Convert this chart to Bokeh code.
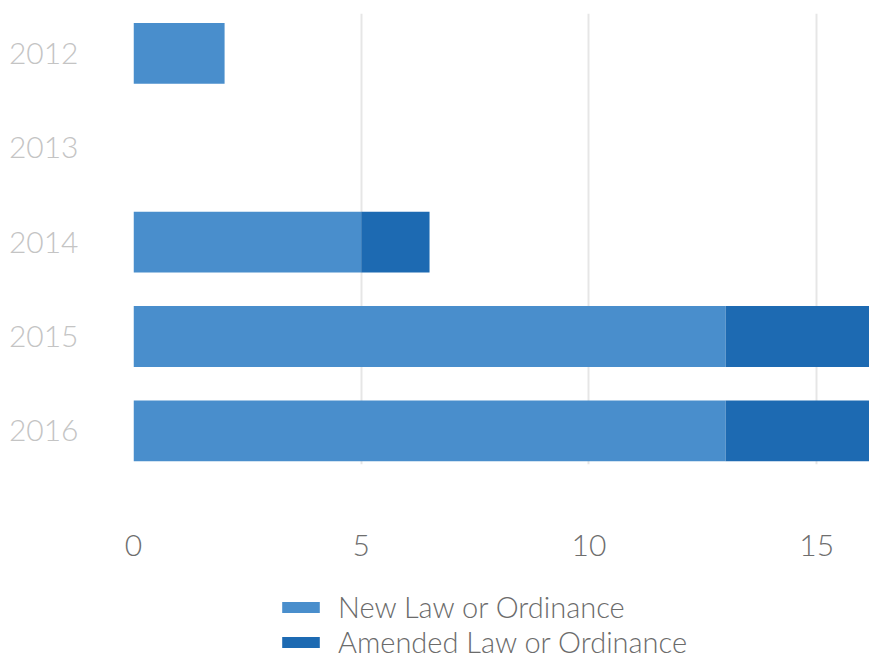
from bokeh.plotting import figure
from bokeh.layouts import column
from bokeh.models import ColumnDataSource, Range1d, FixedTicker, Legend, LegendItem
from bokeh.embed import file_html
from bokeh.resources import INLINE

# Data
years = [2012, 2013, 2014, 2015, 2016]
new_law = [2, 0, 5, 13, 13]
amended_law = [0, 0, 1.5, 4, 4]
x_ticks = [0, 5, 10, 15]
series_labels = ["New Law or Ordinance", "Amended Law or Ordinance"]
colors = ["#498ECC", "#1D6AB2"]

FONT = "Lato Light"

src = ColumnDataSource(dict(year=years, new=new_law, amended=amended_law))

p = figure(width=869, height=580, output_backend="svg", toolbar_location=None,
           x_range=Range1d(0, 16.16), y_range=Range1d(2016.357, 2011.577),
           min_border_left=133, min_border_right=0, min_border_top=13,
           min_border_bottom=116)
p.outline_line_color = None
p.background_fill_color = "white"
p.border_fill_color = "white"

rs = p.hbar_stack(["new", "amended"], y="year", height=0.645, color=colors,
                  line_color=None, source=src)

# axes
p.xaxis.ticker = FixedTicker(ticks=x_ticks)
p.xaxis.axis_line_color = None
p.xaxis.major_tick_line_color = None
p.xaxis.minor_tick_line_color = None
p.xaxis.major_label_standoff = 64
p.xaxis.major_label_text_font = FONT
p.xaxis.major_label_text_font_size = "30px"
p.xaxis.major_label_text_color = "#6e6e6e"

p.yaxis.ticker = FixedTicker(ticks=years)
p.yaxis.axis_line_color = None
p.yaxis.major_tick_line_color = None
p.yaxis.minor_tick_line_color = None
p.yaxis.major_label_standoff = 49
p.yaxis.major_label_text_font = FONT
p.yaxis.major_label_text_font_size = "30px"
p.yaxis.major_label_text_color = "#c4c4c4"

p.xgrid.ticker = FixedTicker(ticks=x_ticks)
p.xgrid.grid_line_color = "#e6e6e6"
p.xgrid.grid_line_width = 2
p.ygrid.grid_line_color = None

# legend strip below the chart (its bars lie outside its visible range)
p2 = figure(width=869, height=77, output_backend="svg", toolbar_location=None,
            x_range=Range1d(0, 1), y_range=Range1d(2020, 2021),
            min_border=0, min_border_left=0, min_border_right=0,
            min_border_top=0, min_border_bottom=0)
p2.outline_line_color = None
p2.axis.visible = False
p2.grid.visible = False
ls = p2.hbar_stack(["new", "amended"], y="year", height=0.645, color=colors,
                   line_color=None, source=src)

legend = Legend(items=[LegendItem(label=series_labels[0], renderers=[ls[0]]),
                       LegendItem(label=series_labels[1], renderers=[ls[1]])],
                location=(144, -2), orientation="vertical",
                glyph_width=47, glyph_height=14, label_height=34,
                padding=0, margin=0, spacing=0, label_standoff=14,
                border_line_color=None, background_fill_alpha=0,
                label_text_font=FONT, label_text_font_size="29px",
                label_text_color="#6b6b6b")
p2.add_layout(legend, "center")

layout = column(p, p2, spacing=0)
open("out.html", "w").write(file_html(layout, INLINE))
